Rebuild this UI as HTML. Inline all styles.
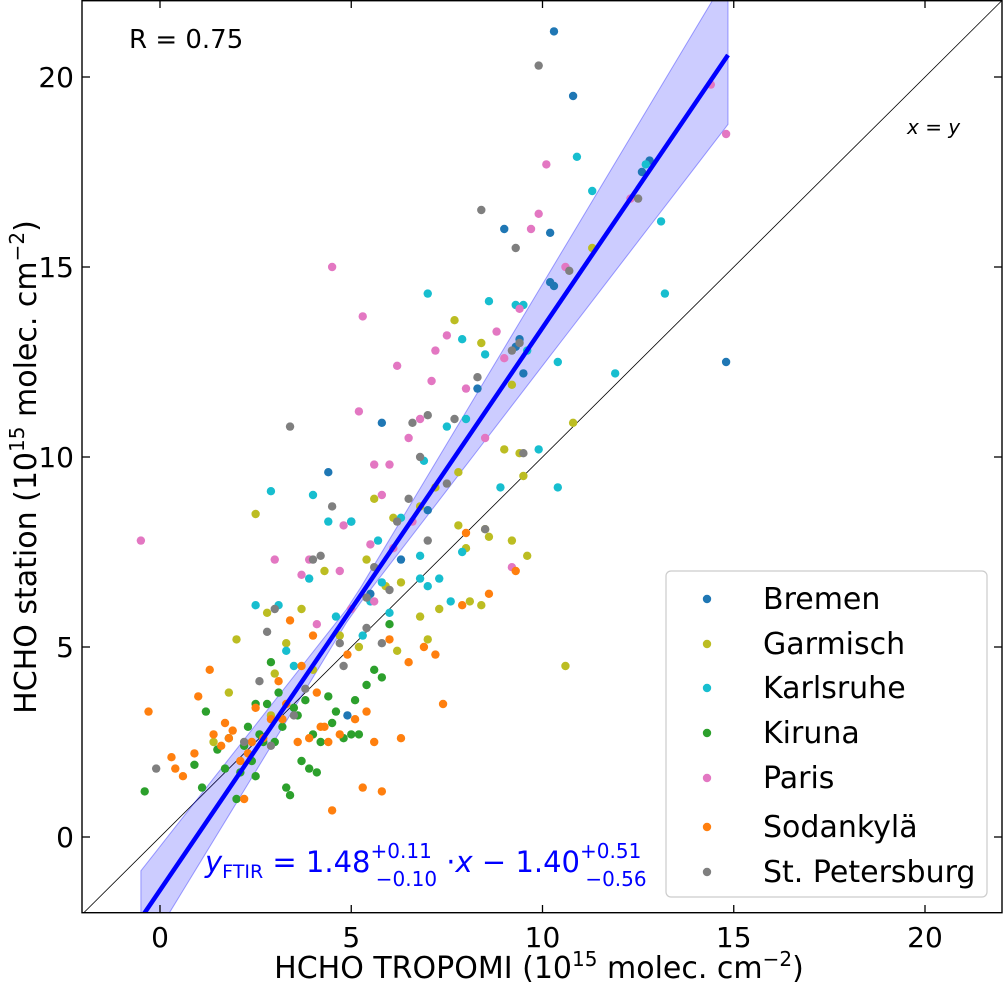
<!DOCTYPE html>
<html><head><meta charset="utf-8">
<style>
body{margin:0;background:#fff;}
svg text{font-family:"DejaVu Sans","Liberation Sans",sans-serif;}
</style></head>
<body>
<svg id="chart" width="1004" height="985" xmlns="http://www.w3.org/2000/svg">
<defs><clipPath id="clip"><rect x="82" y="0" width="920" height="913"/></clipPath></defs>
<g id="plot" clip-path="url(#clip)"></g>
<g id="axes"></g>
</svg>
<script>
const xTicks=[0,5,10,15,20];
const yTicks=[0,5,10,15,20];
const stations=["Bremen","Garmisch","Karlsruhe","Kiruna","Paris","Sodankylä","St. Petersburg"];
const colors=["#1f77b4","#bcbd22","#17becf","#2ca02c","#e377c2","#ff7f0e","#7f7f7f"];
const bremen=[[10.3,21.2],[10.8,19.5],[9.0,16],[10.2,15.9],[10.3,14.5],[9.4,13.1],[9.3,12.9],[9.5,12.2],[12.6,17.5],[12.8,17.8],[14.8,12.5],[4.4,9.6],[5.0,8.3],[5.8,10.9],[7.0,8.6],[6.3,7.3],[4.9,3.2],[10.2,14.6],[8.3,11.8],[5.5,6.4]];
const garmisch=[[2.5,8.5],[5.4,7.3],[6.1,8.4],[6.8,8.7],[7.8,8.2],[8.0,7.6],[8.6,7.9],[9.2,7.8],[9.6,7.4],[9.0,10.2],[9.4,10.1],[10.8,10.9],[10.6,4.5],[8.1,6.2],[8.4,6.1],[7.3,6.0],[6.8,5.8],[6.2,4.9],[5.2,5.0],[4.7,5.3],[3.7,6.0],[3.3,5.1],[2.0,5.2],[2.8,5.9],[1.4,2.5],[1.8,3.8],[4.0,4.4],[7.7,13.6],[8.4,13.0],[11.3,15.5],[9.2,11.9],[7.2,9.2],[7.8,9.6],[5.9,6.6],[5.6,8.9],[4.3,7.0],[3.0,4.3],[2.9,3.2],[6.3,6.7],[8.5,8.1],[7.0,5.2],[9.5,9.5]];
const karlsruhe=[[10.9,17.9],[11.3,17.0],[12.7,17.7],[13.1,16.2],[13.2,14.3],[11.9,12.2],[10.4,12.5],[10.4,9.2],[9.9,10.2],[9.3,14.0],[9.5,14.0],[8.6,14.1],[7.0,14.3],[8.5,12.7],[7.9,13.1],[9.6,12.8],[8.0,11.0],[2.9,9.1],[4.0,9.0],[4.4,8.3],[5.0,8.3],[3.9,6.8],[2.5,6.1],[3.1,6.1],[3.3,4.9],[5.3,5.3],[5.8,6.7],[7.0,6.6],[7.3,6.8],[6.8,7.4],[5.5,6.2],[6.0,5.9],[7.9,7.5],[8.9,9.2],[7.5,10.8],[6.9,9.9],[6.3,8.4],[7.6,6.2],[4.6,5.8],[3.5,4.5],[6.8,6.8],[5.7,7.8]];
const kiruna=[[-0.4,1.2],[0.9,1.9],[1.1,1.3],[1.2,3.3],[1.5,2.3],[1.8,2.6],[2.0,1.0],[2.1,1.7],[2.2,2.4],[2.4,2.0],[2.5,1.6],[2.6,2.7],[2.8,3.5],[3.0,2.5],[3.2,2.9],[3.3,1.3],[3.4,1.1],[3.6,3.2],[3.8,3.6],[4.0,2.7],[4.2,2.5],[4.4,3.7],[4.6,3.3],[4.8,2.6],[5.0,2.7],[5.1,3.6],[5.4,4.0],[5.6,4.4],[5.8,4.2],[6.0,5.6],[3.9,1.8],[2.9,4.6],[3.7,2.0],[4.1,1.7],[2.3,2.9],[1.7,1.8],[2.7,2.5],[3.1,3.8],[4.5,3.0],[5.2,2.7],[3.5,3.4],[2.5,3.5]];
const paris=[[-0.5,7.8],[4.5,15.0],[5.3,13.7],[6.2,12.4],[5.2,11.2],[5.6,9.8],[6.0,9.8],[5.8,9.0],[6.5,10.5],[6.8,11.0],[7.2,12.8],[7.5,13.2],[8.0,11.8],[8.8,13.3],[9.7,16.0],[9.9,16.4],[10.1,17.7],[10.6,15.0],[14.4,19.8],[14.8,18.5],[12.3,16.8],[9.4,13.9],[9.2,7.1],[6.1,7.6],[5.6,6.2],[5.0,6.0],[4.8,8.2],[3.9,7.3],[3.7,6.9],[4.1,5.6],[3.0,7.3],[6.6,8.3],[7.1,12.0],[8.5,10.5],[9.0,12.6],[5.5,7.7],[4.7,7.0]];
const sodankyla=[[-0.3,3.3],[0.3,2.1],[0.4,1.8],[0.6,1.6],[0.9,2.2],[1.0,3.7],[1.3,4.4],[1.4,2.7],[1.6,2.4],[1.7,3.0],[1.9,2.8],[2.1,2.0],[2.2,1.0],[2.3,2.2],[2.5,3.4],[2.7,2.6],[2.9,3.1],[3.1,4.1],[3.2,3.1],[3.4,5.7],[3.6,2.5],[3.7,4.5],[3.9,2.6],[4.0,5.3],[4.2,2.9],[4.4,2.5],[4.5,0.7],[4.7,2.7],[4.9,4.8],[5.1,3.1],[5.3,1.3],[5.6,2.5],[5.8,1.2],[6.0,5.2],[6.3,2.6],[6.5,4.6],[6.9,5.0],[7.2,4.8],[7.4,3.5],[7.9,6.1],[8.0,8.0],[8.6,6.4],[9.3,7.0],[4.1,3.8],[3.3,3.5],[2.4,2.5],[1.8,2.6],[5.4,3.3],[4.3,2.9]];
const stpete=[[-0.1,1.8],[2.2,2.5],[2.6,4.1],[2.8,5.4],[3.4,10.8],[4.2,7.4],[4.5,8.7],[5.4,6.3],[5.6,7.1],[5.8,5.1],[6.5,8.9],[7.0,11.1],[6.8,10.0],[7.7,11.0],[8.4,16.5],[8.3,12.1],[9.3,15.5],[9.4,13.0],[9.2,12.8],[9.5,10.1],[10.7,14.9],[12.5,16.8],[9.9,20.3],[4.8,4.5],[3.8,3.9],[3.5,3.2],[2.9,2.4],[3.0,6.0],[6.2,8.3],[7.5,9.3],[6.6,10.9],[5.4,5.5],[8.5,8.1],[7.0,7.8],[4.0,7.3],[6.0,6.5],[4.7,5.1]];
const seriesData=[bremen,garmisch,karlsruhe,kiruna,paris,sodankyla,stpete];
const fitSlope=[1.48], fitIntercept=[-1.40], fitRange=[-0.5,14.85];
const bandCenter=[5.0], bandBase=[0.15], bandGrowth=[0.17,0.20];

const NS="http://www.w3.org/2000/svg";
const X=v=>160+(v-0)*38.25, Y=v=>837-v*38.0;
const plot=document.getElementById('plot'), axes=document.getElementById('axes');
function mk(p,tag,attrs,txt){const e=document.createElementNS(NS,tag);for(const k in attrs)e.setAttribute(k,attrs[k]);if(txt!=null)e.textContent=txt;p.appendChild(e);return e;}
let l=mk(plot,'line',{x1:X(-2),y1:Y(-2),x2:X(22),y2:Y(22),stroke:'#000','stroke-width':0.8});


let up=[],lo=[];
for(let i=0;i<=40;i++){const x=fitRange[0]+(fitRange[1]-fitRange[0])*i/40;
 const c=fitSlope[0]*x+fitIntercept[0];
 const d=Math.abs(x-bandCenter[0]);
 up.push([x,c+bandBase[0]+bandGrowth[1]*d]);lo.push([x,c-bandBase[0]-bandGrowth[0]*d]);}
let pts=up.concat(lo.reverse()).map(p=>X(p[0])+','+Y(p[1])).join(' ');
let band=mk(plot,'polygon',{points:pts,fill:'rgba(0,0,255,0.2)',stroke:'rgba(0,0,255,0.35)','stroke-width':1});


seriesData.forEach((s,i)=>{s.forEach(p=>{
 const c=mk(plot,'circle',{cx:X(p[0]),cy:Y(p[1]),r:4.2,fill:colors[i]});
 
 
});});
let fl=mk(plot,'line',{x1:X(fitRange[0]),y1:Y(fitSlope[0]*fitRange[0]+fitIntercept[0]),x2:X(fitRange[1]),y2:Y(fitSlope[0]*fitRange[1]+fitIntercept[0]),stroke:'#0000ff','stroke-width':4.5});


let fr=mk(axes,'rect',{x:82,y:0.7,width:920,height:912,fill:'none',stroke:'#000','stroke-width':1.4});


xTicks.forEach(t=>{const x=X(t);
 mk(axes,'line',{x1:x,y1:913,x2:x,y2:905,stroke:'#000','stroke-width':1.3});
 mk(axes,'line',{x1:x,y1:0,x2:x,y2:8,stroke:'#000','stroke-width':1.3});
 const tx=mk(axes,'text',{x:x,y:947,'font-size':28,'text-anchor':'middle'},t);
 
 });
yTicks.forEach(t=>{const y=Y(t);
 mk(axes,'line',{x1:82,y1:y,x2:90,y2:y,stroke:'#000','stroke-width':1.3});
 mk(axes,'line',{x1:1002,y1:y,x2:994,y2:y,stroke:'#000','stroke-width':1.3});
 const tx=mk(axes,'text',{x:74,y:y+10,'font-size':28,'text-anchor':'end'},t);
 
 });
let lg=mk(axes,'rect',{x:666,y:571,width:321,height:326,rx:5,fill:'#fff',stroke:'#ccc','stroke-width':1.2});


const legY=[599,644,688,733,778,827,872];
stations.forEach((s,i)=>{const y=legY[i];
 const c=mk(axes,'circle',{cx:707,cy:y,r:4.2,fill:colors[i]});
 
 
 const t=mk(axes,'text',{x:763,y:y+10,'font-size':30},s);
 
 });
</script>
<svg style="position:absolute;left:0;top:0" width="1004" height="985">
<text x="129" y="48" font-size="26" font-family="DejaVu Sans,sans-serif">R = 0.75</text>
<text x="907" y="134" font-size="20" font-style="italic" font-family="DejaVu Sans,sans-serif">x = y</text>
<text x="205" y="872" font-size="29" fill="#0000ff" font-family="DejaVu Sans,sans-serif"><tspan font-style="italic">y</tspan><tspan font-size="19" dy="6">FTIR</tspan><tspan dy="-6"> = 1.48</tspan><tspan font-size="20" dy="-14">+0.11</tspan><tspan font-size="20" dx="-56" dy="28">−0.10</tspan><tspan dy="-14"> ·</tspan><tspan font-style="italic">x</tspan><tspan> −  1.40</tspan><tspan font-size="20" dy="-14">+0.51</tspan><tspan font-size="20" dx="-56" dy="28">−0.56</tspan></text>
<text x="539" y="978" font-size="30" text-anchor="middle" font-family="DejaVu Sans,sans-serif">HCHO TROPOMI (10<tspan font-size="20" dy="-12">15</tspan><tspan dy="12"> molec. cm</tspan><tspan font-size="20" dy="-12">−2</tspan><tspan dy="12">)</tspan></text>
<text transform="translate(36,467) rotate(-90)" font-size="30" text-anchor="middle" font-family="DejaVu Sans,sans-serif">HCHO station (10<tspan font-size="20" dy="-12">15</tspan><tspan dy="12"> molec. cm</tspan><tspan font-size="20" dy="-12">−2</tspan><tspan dy="12">)</tspan></text>
</svg>
</body></html>
